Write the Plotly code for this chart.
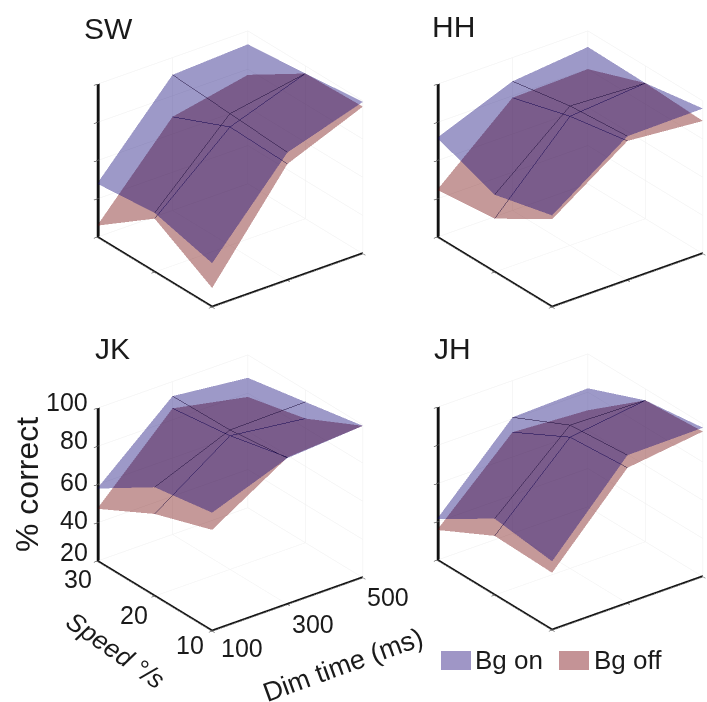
import plotly.graph_objects as go

W, H = 707, 702
dim_time = [100, 300, 500]
speed = [30, 20, 10]
pct_ticks = [20, 40, 60, 80, 100]
subjects = ["SW", "HH", "JK", "JH"]

# rows follow speed 30, 20, 10; columns follow dim time 100, 300, 500
SW_on = [[48, 91, 93], [51, 89, 96], [43, 87, 99.5]]
SW_off = [[26, 69, 77], [48, 82, 96], [30, 81, 97]]
HH_on = [[72, 87.6, 91.6], [60.5, 93, 91], [68, 95.5, 96]]
HH_off = [[44.7, 79, 80], [48, 87.6, 91], [66, 93, 89.5]]
JK_on = [[58, 92.4, 88], [77, 93, 93.7], [82, 96.6, 99.5]]
JK_off = [[47.4, 86, 78], [63, 90, 85], [73, 97, 99.5]]
JH_on = [[41.6, 80.8, 82], [60, 95, 94], [56, 97.6, 98]]
JH_off = [[35.8, 73, 70.5], [51, 88.7, 94], [50, 91, 96]]

panels = {"SW": (SW_on, SW_off), "HH": (HH_on, HH_off), "JK": (JK_on, JK_off), "JH": (JH_on, JH_off)}
centers = {"SW": (229.5, 168.5), "HH": (569.5, 168.5), "JK": (229.5, 492.5), "JH": (569.5, 491.5)}
title_pos = {"SW": (108, 28), "HH": (453, 27), "JK": (112, 349), "JH": (452, 349)}

BLUE = "rgb(10,0,117)"
RED = "rgb(110,0,0)"
LINE = "rgb(30,15,60)"
ALPHA = 0.4
HALF_W, HALF_H = 137, 160
EYE = (-0.537, -0.704, 0.464)
EYE_LEN = 2.0
SCALE = 1.185
FONT = "Liberation Sans, Arial, sans-serif"
TEXT_COL = "#1a1a1a"

# label offsets in pixels from each tick (dx, dy)
dim_shift = {100: (30, -17), 300: (26, -20), 500: (26, -20)}
speed_shift = {30: (-19, -18), 20: (-20, -19), 10: (-22, -14)}
pct_shift = {100: 6, 80: 6, 60: 2, 40: 2, 20: 9}

fig = go.Figure()
layout = {}


def mesh(z, color, scene):
    fig.add_trace(go.Surface(
        x=dim_time, y=speed, z=z, scene=scene, showscale=False, opacity=ALPHA,
        colorscale=[[0, color], [1, color]], hoverinfo="skip",
        lighting=dict(ambient=1, diffuse=0, specular=0, fresnel=0, roughness=1),
        contours=dict(
            x=dict(show=True, start=dim_time[1], end=dim_time[1] + 1, size=dim_time[1], color=LINE, width=2),
            y=dict(show=True, start=speed[1], end=speed[1] + 1, size=speed[1], color=LINE, width=2),
        ),
    ))


def axis_line(scene, xs, ys, zs):
    fig.add_trace(go.Scatter3d(x=xs, y=ys, z=zs, mode="lines", scene=scene, line=dict(color="#111", width=2),
                               hoverinfo="skip", showlegend=False))


for n, name in enumerate(subjects):
    scene = "scene" if n == 0 else f"scene{n+1}"
    on, off = panels[name]
    mesh(off, RED, scene)
    mesh(on, BLUE, scene)
    for dx in (0, 2.7, 5.4):
        axis_line(scene, [dim_time[0] + dx] * 2, [speed[0]] * 2, [pct_ticks[0], pct_ticks[-1]])
    for dz in (0, 0.55):
        axis_line(scene, [dim_time[0]] * 2, [speed[0], speed[-1]], [pct_ticks[0] + dz] * 2)
        axis_line(scene, [dim_time[0], dim_time[-1]], [speed[-1]] * 2, [pct_ticks[0] + dz] * 2)
    cx, cy = centers[name]
    labelled = name == "JK"
    axis = dict(showbackground=False, showgrid=True, gridcolor="#eeeeee", gridwidth=1, zeroline=False,
                showline=False, ticks="outside", ticklen=4, tickcolor="#111",
                showticklabels=False, title=dict(text=""), showspikes=False, mirror=False)
    annos = []
    if labelled:
        f = dict(family=FONT, size=25, color=TEXT_COL)
        for d in dim_time:
            annos.append(dict(x=d, y=speed[-1], z=pct_ticks[0], text=str(d), showarrow=False,
                              xshift=dim_shift[d][0], yshift=dim_shift[d][1], font=f))
        for s in speed:
            annos.append(dict(x=dim_time[0], y=s, z=pct_ticks[0], text=str(s), showarrow=False,
                              xshift=speed_shift[s][0], yshift=speed_shift[s][1], font=f))
        for p in pct_ticks:
            annos.append(dict(x=dim_time[0], y=speed[0], z=p, text=str(p), showarrow=False, xanchor="right",
                              xshift=-7, yshift=pct_shift[p], font=f))
    layout[scene] = dict(
        domain=dict(x=[(cx - HALF_W) / W, (cx + HALF_W) / W], y=[1 - (cy + HALF_H) / H, 1 - (cy - HALF_H) / H]),
        xaxis=dict(axis, range=[100, 500], tickvals=dim_time),
        yaxis=dict(axis, range=[10, 30], tickvals=speed),
        zaxis=dict(axis, range=[20, 100], tickvals=pct_ticks),
        aspectmode="manual", aspectratio=dict(x=SCALE, y=SCALE, z=0.91 * SCALE),
        bgcolor="rgba(0,0,0,0)",
        camera=dict(projection=dict(type="orthographic"), up=dict(x=0, y=0, z=1), center=dict(x=0, y=0, z=0),
                    eye=dict(x=EYE[0] * EYE_LEN, y=EYE[1] * EYE_LEN, z=EYE[2] * EYE_LEN)),
        annotations=annos,
    )


def text(x, y, s, size, angle=0, color=TEXT_COL):
    return dict(x=x / W, y=1 - y / H, xref="paper", yref="paper", text=s, showarrow=False, textangle=angle,
                font=dict(family=FONT, size=size, color=color), xanchor="center", yanchor="middle")


annotations = [text(*title_pos[k], k, 30) for k in subjects]
annotations += [
    text(27, 485, "% correct", 32, -90),
    text(115, 650, "<i>Speed °/s</i>", 26, 35),
    text(343, 665, "Dim time (ms)", 27, -20),
    text(509, 660, "Bg on", 26),
    text(627.5, 660, "Bg off", 26),
]
shapes = [
    dict(type="rect", xref="paper", yref="paper", x0=441 / W, x1=471 / W, y0=1 - 670 / H, y1=1 - 651 / H,
         fillcolor="#9f96c6", line=dict(width=0)),
    dict(type="rect", xref="paper", yref="paper", x0=559 / W, x1=589 / W, y0=1 - 670 / H, y1=1 - 651 / H,
         fillcolor="#c49396", line=dict(width=0)),
]

fig.update_layout(width=W, height=H, margin=dict(l=0, r=0, t=0, b=0), paper_bgcolor="white", showlegend=False,
                  annotations=annotations, shapes=shapes, **layout)
fig.write_html("out.html", config={"displayModeBar": False},
               post_script="document.body.style.margin='0';document.documentElement.style.overflow='hidden';")
